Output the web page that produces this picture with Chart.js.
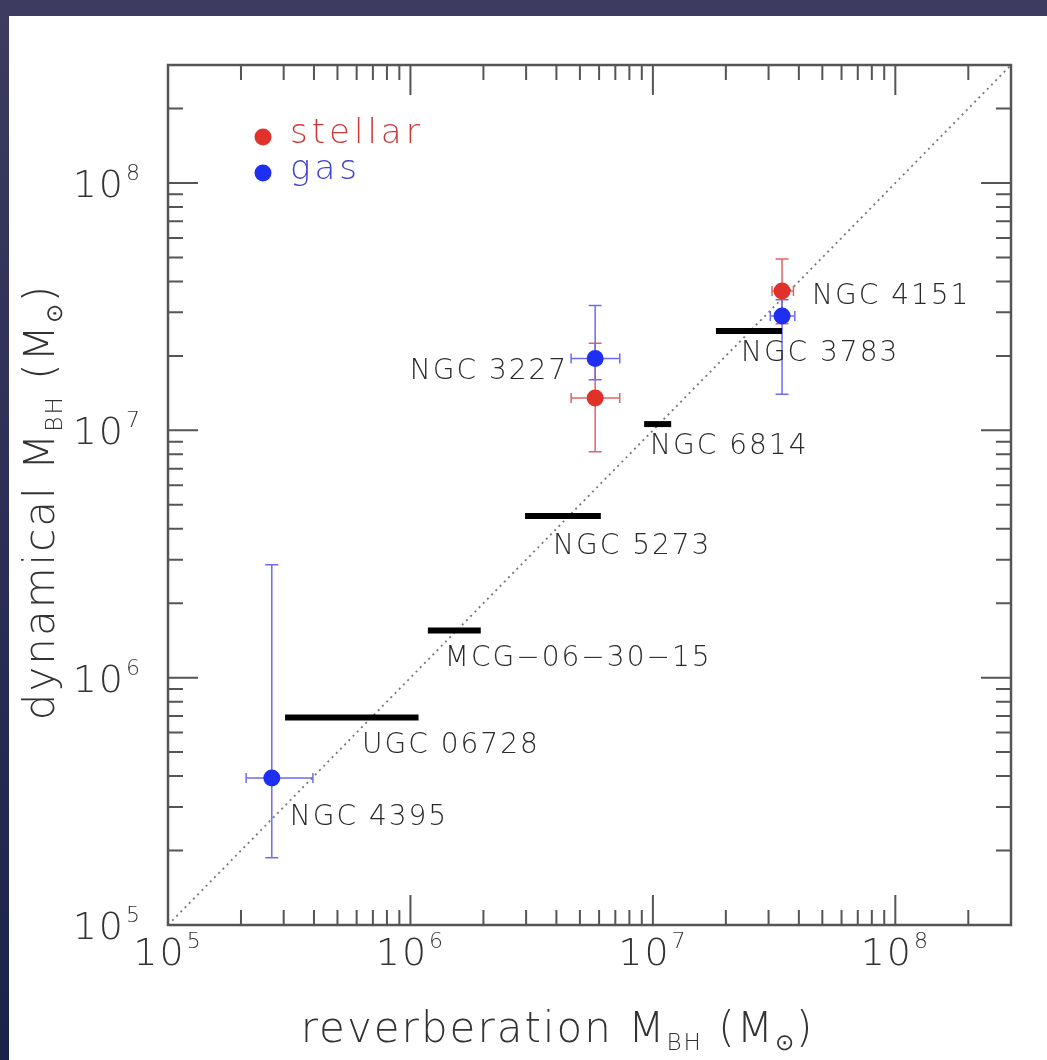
<!DOCTYPE html>
<html>
<head>
<meta charset="utf-8">
<script src="https://cdn.jsdelivr.net/npm/chart.js@4.4.1/dist/chart.umd.min.js"></script>
<style>
  html, body { margin: 0; padding: 0; }
  body {
    width: 1047px; height: 1060px; overflow: hidden; position: relative;
    background: linear-gradient(180deg, #3d3b5f 0%, #2c2e55 50%, #1b2348 100%);
  }
  #wrap { position: absolute; left: 9px; top: 16px; width: 1038px; height: 1044px; background: #fff; }
</style>
</head>
<body>
<div id="wrap"><canvas id="massChart"></canvas></div>
<script>
// black hole masses in solar masses, reverberation (x) vs dynamical (y)
var axisMin = 1e5, axisMax = 3e8;
var decades = [1e5, 1e6, 1e7, 1e8];
var decadeExp = ["5", "6", "7", "8"];

// objects with one dynamical mass and a range of reverberation masses
var barNames = ["UGC 06728", "MCG\u221206\u221230\u221215", "NGC 5273", "NGC 6814", "NGC 3783"];
var barDyn = [6.9e5, 1.55e6, 4.5e6, 1.06e7, 2.52e7];
var barRevLo = [3.04e5, 1.18e6, 2.97e6, 9.2e6, 1.82e7];
var barRevHi = [1.08e6, 1.95e6, 6.1e6, 1.19e7, 3.41e7];

// stellar-dynamical masses
var stellarNames = ["NGC 3227", "NGC 4151"];
var stellarRev = [5.78e6, 3.41e7];
var stellarRevLo = [4.6e6, 3.1e7];
var stellarRevHi = [7.3e6, 3.8e7];
var stellarDyn = [1.35e7, 3.66e7];
var stellarDynLo = [8.2e6, 2.7e7];
var stellarDynHi = [2.25e7, 4.93e7];

// gas-dynamical masses
var gasNames = ["NGC 4395", "NGC 3227", "NGC 4151"];
var gasRev = [2.68e5, 5.78e6, 3.41e7];
var gasRevLo = [2.1e5, 4.6e6, 3.05e7];
var gasRevHi = [3.96e5, 7.3e6, 3.85e7];
var gasDyn = [3.93e5, 1.95e7, 2.9e7];
var gasDynLo = [1.87e5, 1.6e7, 1.4e7];
var gasDynHi = [2.86e6, 3.2e7, 3.37e7];

var RED = "#e0322b", BLUE = "#1f2ff2";
var INK = "#2a2a2a";
var AXIS_INK = "#333";
var FONT = '"DejaVu Sans", sans-serif';
var WEIGHT = "200";

// name tags: anchored on a mark, shifted in pixels
var tags = [
  { text: "NGC 4151", x: stellarRev[1], y: stellarDyn[1], dx: 30, dy: 6, align: "left" },
  { text: barNames[4], x: barRevLo[4], y: barDyn[4], dx: 25, dy: 23, align: "left" },
  { text: gasNames[1], x: gasRev[1], y: gasDyn[1], dx: -27, dy: 13, align: "right" },
  { text: barNames[3], x: barRevLo[3], y: barDyn[3], dx: 6, dy: 23, align: "left" },
  { text: barNames[2], x: barRevLo[2], y: barDyn[2], dx: 28, dy: 31, align: "left" },
  { text: barNames[1], x: barRevLo[1], y: barDyn[1], dx: 17, dy: 28, align: "left" },
  { text: barNames[0], x: barRevLo[0], y: barDyn[0], dx: 77, dy: 28, align: "left" },
  { text: gasNames[0], x: gasRev[0], y: gasDyn[0], dx: 18, dy: 40, align: "left" }
];

function pts(xs, ys) {
  return xs.map(function (v, i) { return { x: v, y: ys[i] }; });
}

var datasets = [
  { label: "gas", data: pts(gasRev, gasDyn), backgroundColor: BLUE, borderColor: BLUE, pointRadius: 8.5, borderWidth: 0 },
  { label: "stellar", data: pts(stellarRev, stellarDyn), backgroundColor: RED, borderColor: RED, pointRadius: 8.5, borderWidth: 0 }
];
barNames.forEach(function (n, i) {
  datasets.push({
    label: n, type: "line", showLine: true,
    data: [{ x: barRevLo[i], y: barDyn[i] }, { x: barRevHi[i], y: barDyn[i] }],
    borderColor: "#000", borderWidth: 6, borderCapStyle: "butt", pointRadius: 0
  });
});
// one-to-one line
datasets.push({
  label: "1:1", type: "line", showLine: true,
  data: [{ x: axisMin, y: axisMin }, { x: axisMax, y: axisMax }],
  borderColor: "#777", borderWidth: 1.8, borderDash: [2, 4], pointRadius: 0
});

function text(ctx, s, x, y, size, spacing, color, align) {
  ctx.save();
  ctx.font = WEIGHT + " " + size + "px " + FONT;
  ctx.letterSpacing = spacing + "px";
  ctx.fillStyle = color;
  ctx.textAlign = align || "left";
  ctx.textBaseline = "middle";
  ctx.fillText(s, x, y);
  ctx.restore();
}

// "10" with a raised exponent; align is where x sits: center/right
function power(ctx, exp, x, y, align) {
  ctx.save();
  ctx.fillStyle = AXIS_INK;
  ctx.textBaseline = "alphabetic";
  ctx.letterSpacing = "2px";
  ctx.font = WEIGHT + " 38px " + FONT;
  var w1 = ctx.measureText("10").width;
  ctx.font = WEIGHT + " 22px " + FONT;
  var w2 = ctx.measureText(exp).width;
  var total = w1 + 1 + w2;
  var x0 = align === "right" ? x - total : x - total / 2;
  ctx.font = WEIGHT + " 38px " + FONT;
  ctx.fillText("10", x0, y + 14);
  ctx.font = WEIGHT + " 22px " + FONT;
  ctx.fillText(exp, x0 + w1 + 1, y - 3);
  ctx.restore();
}

// text runs with optional subscripts, e.g. [["M",0],["BH",1]]
function drawRuns(ctx, parts, x, y, size, spacing) {
  var total = 0;
  parts.forEach(function (p) {
    ctx.font = WEIGHT + " " + (p[1] ? size * 0.55 : size) + "px " + FONT;
    ctx.letterSpacing = spacing + "px";
    p.w = ctx.measureText(p[0]).width;
    total += p.w;
  });
  var cx = x - total / 2;
  parts.forEach(function (p) {
    ctx.font = WEIGHT + " " + (p[1] ? size * 0.55 : size) + "px " + FONT;
    ctx.letterSpacing = spacing + "px";
    ctx.fillText(p[0], cx, p[1] ? y + size * 0.2 : y);
    cx += p.w;
  });
}

function errorBar(ctx, xs, ys, x, xlo, xhi, y, ylo, yhi, color) {
  var px = xs.getPixelForValue(x), py = ys.getPixelForValue(y);
  var l = xs.getPixelForValue(xlo), r = xs.getPixelForValue(xhi);
  var t = ys.getPixelForValue(yhi), b = ys.getPixelForValue(ylo);
  ctx.beginPath();
  ctx.moveTo(l, py); ctx.lineTo(r, py);
  ctx.moveTo(l, py - 5); ctx.lineTo(l, py + 5);
  ctx.moveTo(r, py - 5); ctx.lineTo(r, py + 5);
  ctx.moveTo(px, t); ctx.lineTo(px, b);
  ctx.moveTo(px - 6.5, t); ctx.lineTo(px + 6.5, t);
  ctx.moveTo(px - 6.5, b); ctx.lineTo(px + 6.5, b);
  ctx.strokeStyle = color;
  ctx.lineWidth = 1.5;
  ctx.stroke();
}

var massPlot = {
  id: "massPlot",
  beforeDatasetsDraw: function (chart) {
    var ctx = chart.ctx, xs = chart.scales.x, ys = chart.scales.y;
    ctx.save();
    stellarRev.forEach(function (v, i) {
      errorBar(ctx, xs, ys, v, stellarRevLo[i], stellarRevHi[i], stellarDyn[i], stellarDynLo[i], stellarDynHi[i], "#e06464");
    });
    gasRev.forEach(function (v, i) {
      errorBar(ctx, xs, ys, v, gasRevLo[i], gasRevHi[i], gasDyn[i], gasDynLo[i], gasDynHi[i], "#6c6cf0");
    });
    ctx.restore();
  },
  afterDraw: function (chart) {
    var ctx = chart.ctx, a = chart.chartArea, xs = chart.scales.x, ys = chart.scales.y;
    ctx.save();

    // frame
    ctx.strokeStyle = "#555";
    ctx.lineWidth = 2.5;
    ctx.strokeRect(a.left, a.top, a.right - a.left, a.bottom - a.top);

    // inward ticks on all four sides
    ctx.lineWidth = 2;
    ctx.beginPath();
    decades.forEach(function (d) {
      for (var m = 1; m <= 9; m++) {
        var v = m * d;
        if (v >= axisMax) break;
        var len = m === 1 ? 30 : 15;
        var px = xs.getPixelForValue(v), py = ys.getPixelForValue(v);
        ctx.moveTo(px, a.bottom); ctx.lineTo(px, a.bottom - len);
        ctx.moveTo(px, a.top); ctx.lineTo(px, a.top + len);
        ctx.moveTo(a.left, py); ctx.lineTo(a.left + len, py);
        ctx.moveTo(a.right, py); ctx.lineTo(a.right - len, py);
      }
    });
    ctx.stroke();

    // decade labels
    xs.ticks.forEach(function (t, i) {
      power(ctx, decadeExp[i], xs.getPixelForValue(t.value), a.bottom + 26, "center");
    });
    ys.ticks.forEach(function (t, i) {
      power(ctx, decadeExp[i], a.left - 26, ys.getPixelForValue(t.value), "right");
    });

    // axis titles
    ctx.fillStyle = AXIS_INK;
    ctx.textBaseline = "alphabetic";
    var title = [["reverberation M", 0], ["BH", 1], [" (M", 0], ["\u2299", 1], [")", 0]];
    drawRuns(ctx, title, (a.left + a.right) / 2 - 32, a.bottom + 117, 42, 2);
    ctx.save();
    ctx.translate(a.left - 126, (a.top + a.bottom) / 2 + 7);
    ctx.rotate(-Math.PI / 2);
    var ytitle = [["dynamical M", 0], ["BH", 1], [" (M", 0], ["\u2299", 1], [")", 0]];
    drawRuns(ctx, ytitle, 0, 12, 42, 2);
    ctx.restore();

    // galaxy names
    tags.forEach(function (t) {
      text(ctx, t.text, xs.getPixelForValue(t.x) + t.dx, ys.getPixelForValue(t.y) + t.dy, 28, 2, INK, t.align);
    });

    // legend
    var lx = a.left + 95, ly = a.top + 72;
    [["stellar", RED, "#cc3838"], ["gas", BLUE, "#4040cc"]].forEach(function (e, i) {
      ctx.beginPath();
      ctx.arc(lx, ly + i * 36, 8.5, 0, Math.PI * 2);
      ctx.fillStyle = e[1];
      ctx.fill();
      text(ctx, e[0], lx + 27, ly + i * 36 - 3, 34, 4, e[2], "left");
    });
    ctx.restore();
  }
};

new Chart(document.getElementById("massChart"), {
  type: "scatter",
  data: { datasets: datasets },
  options: {
    responsive: true,
    maintainAspectRatio: false,
    animation: false,
    layout: { padding: { left: 0, top: 49, right: 36, bottom: 0 } },
    plugins: { legend: { display: false }, tooltip: { enabled: false } },
    scales: {
      x: {
        type: "logarithmic", min: axisMin, max: axisMax,
        grid: { display: false }, border: { display: false },
        ticks: { display: false },
        afterBuildTicks: function (s) { s.ticks = decades.map(function (v) { return { value: v }; }); },
        afterFit: function (s) { s.height = 135; }
      },
      y: {
        type: "logarithmic", min: axisMin, max: axisMax,
        grid: { display: false }, border: { display: false },
        ticks: { display: false },
        afterBuildTicks: function (s) { s.ticks = decades.map(function (v) { return { value: v }; }); },
        afterFit: function (s) { s.width = 159; }
      }
    }
  },
  plugins: [massPlot]
});
</script>
</body>
</html>
